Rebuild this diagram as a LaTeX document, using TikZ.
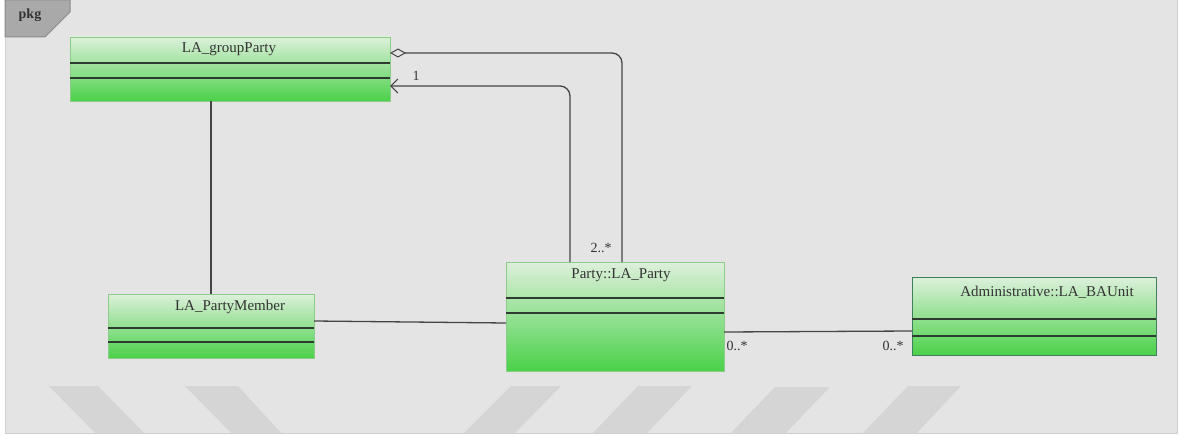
\documentclass[tikz,border=0pt]{standalone}
\usepackage{fontspec}
\setmainfont{Liberation Serif}
\usetikzlibrary{arrows.meta,calc}

\definecolor{canvasbg}{HTML}{E4E4E4}
\definecolor{framecol}{HTML}{CFCFCF}
\definecolor{stripecol}{HTML}{D5D5D5}
\definecolor{tabfill}{HTML}{A9A9A9}
\definecolor{tabdraw}{HTML}{8A8A8A}
\definecolor{boxtop}{HTML}{DDF0DB}
\definecolor{boxbot}{HTML}{4BD14A}
\definecolor{boxedge}{HTML}{8CCB88}
\definecolor{boxedgedark}{HTML}{3F7E5E}
\definecolor{sepcol}{HTML}{2F3A30}
\definecolor{linkcol}{HTML}{454545}
\definecolor{textcol}{HTML}{333333}

\tikzset{
  classbox/.style={draw=boxedge, line width=0.9pt, top color=boxtop, bottom color=boxbot,
    anchor=north west, inner sep=0pt, outer sep=0pt},
  classtitle/.style={font=\fontsize{15}{17}\selectfont, text=textcol, inner sep=0pt},
  sepline/.style={draw=sepcol, line width=1.2pt},
  link/.style={draw=linkcol, line width=1.3pt},
  mult/.style={font=\fontsize{14}{16}\selectfont, text=textcol, inner sep=0pt},
  stripe/.style={fill=stripecol, draw=none},
}

\begin{document}
\begin{tikzpicture}[x=1pt, y=-1pt]
  \useasboundingbox (0,0) rectangle (1186,436);
  \fill[white] (0,0) rectangle (1186,436);

  % package frame
  \fill[canvasbg] (5,0) rectangle (1177,433);
  \begin{scope}
    \clip (5,0) rectangle (1177,433);
    \fill[stripe] (49,386) -- (98,386) -- (147,436) -- (98,436) -- cycle;
    \fill[stripe] (185,386) -- (238,386) -- (284,436) -- (234,436) -- cycle;
    \fill[stripe] (511,386) -- (561,386) -- (512,436) -- (461,436) -- cycle;
    \fill[stripe] (638,386) -- (692,386) -- (644,436) -- (590,436) -- cycle;
    \fill[stripe] (775,387) -- (830,387) -- (783,436) -- (728,436) -- cycle;
    \fill[stripe] (908,386) -- (961,386) -- (914,436) -- (860,436) -- cycle;
  \end{scope}
  \draw[framecol, line width=1pt] (5.5,-1) rectangle (1177,433);

  % package tab
  \filldraw[fill=tabfill, draw=tabdraw, line width=1pt]
    (5,0) -- (70,0) -- (70,12) -- (45,37) -- (5,37) -- cycle;
  \node[font=\bfseries\fontsize{14}{16}\selectfont, text=textcol, inner sep=0pt] (pkgname) at (30,15) {pkg};

  % classes
  \node[classbox, minimum width=320pt, minimum height=64pt] (gp) at (70,37) {};
  \draw[sepline] (70,63) -- (390,63);
  \draw[sepline] (70,78) -- (390,78);
  \node[classtitle] (gptitle) at (229,49) {LA\_groupParty};

  \node[classbox, minimum width=206pt, minimum height=64pt] (pm) at (108,294) {};
  \draw[sepline] (108,328) -- (314,328);
  \draw[sepline] (108,342) -- (314,342);
  \node[classtitle] (pmtitle) at (230,307) {LA\_PartyMember};

  \node[classbox, minimum width=218pt, minimum height=109pt] (pa) at (506,262) {};
  \draw[sepline] (506,298) -- (724,298);
  \draw[sepline] (506,313) -- (724,313);
  \node[classtitle] (patitle) at (621,275) {Party::LA\_Party};

  \node[classbox, draw=boxedgedark, minimum width=244pt, minimum height=78pt] (ba) at (912,277) {};
  \draw[sepline] (912,319) -- (1156,319);
  \draw[sepline] (912,336) -- (1156,336);
  \node[classtitle] (batitle) at (1047,292) {Administrative::LA\_BAUnit};

  % aggregation: group party made of parties
  \draw[link, rounded corners=10pt, {Diamond[open, length=16pt, width=9pt, line width=1pt]}-]
    ([yshift=-16pt]gp.north east) -| ([xshift=7pt]pa.north);
  % navigable association towards the group
  \draw[link, rounded corners=10pt, -{Straight Barb[length=7pt, width=14pt, line width=1.2pt]}]
    ([xshift=-45pt]pa.north) |- ([yshift=-49pt]gp.north east);
  \node[mult] (m1) at (416,76) {1};
  \node[mult] (m2) at (601,248) {2..*};

  % group to member
  \draw[link] (pm.north |- gp.south) -- (pm.north);
  % member to party
  \draw[link] ([yshift=5pt]pm.east) -- ([yshift=-6.5pt]pa.west);
  % party to administrative unit
  \draw[link] ([yshift=-15.5pt]pa.east) -- ([yshift=-15pt]ba.west);
  \node[mult] (m3) at (737,346) {0..*};
  \node[mult] (m4) at (893,346) {0..*};
\end{tikzpicture}
\end{document}
